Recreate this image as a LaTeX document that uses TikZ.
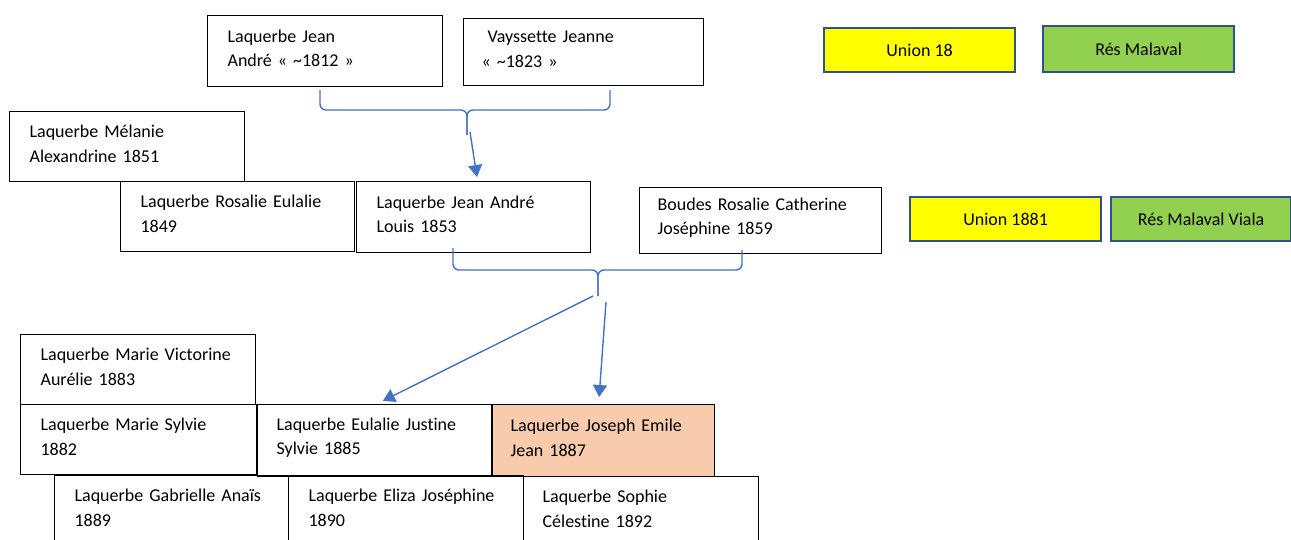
\documentclass[tikz,border=0pt]{standalone}
\usepackage{fontspec}
\setmainfont{Carlito}[Ligatures=NoCommon]
\usetikzlibrary{arrows.meta}
\definecolor{linkblue}{HTML}{4472C4}
\definecolor{tagedge}{HTML}{2F528F}
\definecolor{tagyellow}{HTML}{FFFF00}
\definecolor{taggreen}{HTML}{92D050}
\definecolor{heroorange}{HTML}{F8CBAD}
\begin{document}
\begin{tikzpicture}[x=1pt,y=-1pt,
    person/.style={draw=black,line width=1.2pt,rectangle,anchor=north west,
      align=left,inner xsep=20pt,inner ysep=2pt,minimum height=70pt,
      execute at end node={\endgraf\vspace*{6pt}},
      font=\fontsize{18}{24.5}\selectfont},
    tag/.style={draw=tagedge,line width=2.2pt,rectangle,anchor=north west,
      minimum height=44pt,font=\fontsize{18}{22}\selectfont},
    brace/.style={linkblue,line width=1.4pt,rounded corners=6pt},
    link/.style={linkblue,line width=1.4pt,-{Triangle[width=14pt,length=12pt]}}]
    \useasboundingbox (0,0) rectangle (1291,539);

    % grand-parents
    \node[person,text width=195pt,minimum height=71pt] (jeanpere) at (207,15) {Laquerbe Jean\\André « \textasciitilde1812 »};
    \node[person,text width=204pt,inner xsep=18pt,minimum height=67pt] (jeanne) at (463,18) {\hspace*{6pt}Vayssette Jeanne\\« \textasciitilde1823 »};
    \node[tag,fill=tagyellow,minimum width=191pt] (union18) at (823,27) {Union 18};
    \node[tag,fill=taggreen,minimum width=191pt,minimum height=46pt] (malaval) at (1042,25) {Rés Malaval};

    % parents and their siblings
    \node[person,text width=195pt] (melanie) at (9,111) {Laquerbe Mélanie\\Alexandrine 1851};
    \node[person,text width=194pt] (rosalie) at (120,181) {Laquerbe Rosalie Eulalie\\1849};
    \node[person,text width=194pt,minimum height=71pt] (jeanandre) at (356,181) {Laquerbe Jean André\\Louis 1853};
    \node[person,text width=206pt,inner xsep=18pt,minimum height=66pt] (boudes) at (639,187) {Boudes Rosalie Catherine\\Joséphine 1859};
    \node[tag,fill=tagyellow,minimum width=191pt] (union1881) at (909,196) {Union 1881};
    \node[tag,fill=taggreen,minimum width=180pt] (viala) at (1110,196) {Rés Malaval Viala};

    % children
    \node[person,text width=195pt] (victorine) at (20,334) {Laquerbe Marie Victorine\\Aurélie 1883};
    \node[person,text width=196pt] (sylvie) at (20,404) {Laquerbe Marie Sylvie\\1882};
    \node[person,text width=196pt,inner xsep=19pt,minimum height=72pt] (eulalie) at (257,404) {Laquerbe Eulalie Justine\\Sylvie 1885};
    \node[person,fill=heroorange,text width=186pt,inner xsep=18pt,minimum height=72pt] (joseph) at (492,404) {Laquerbe Joseph Emile\\Jean 1887};
    \node[person,text width=194pt] (gabrielle) at (54,475) {Laquerbe Gabrielle Anaïs\\1889};
    \node[person,text width=195pt] (eliza) at (288,475) {Laquerbe Eliza Joséphine\\1890};
    \node[person,text width=197pt,inner xsep=19pt] (sophie) at (523,476) {Laquerbe Sophie\\Célestine 1892};

    % first union
    \coordinate (b1l) at (320,90);
    \coordinate (b1r) at (610,90);
    \coordinate (b1m) at (467,110);
    \coordinate (b1t) at (467,135);
    \draw[brace] (b1l) |- (b1m) -- (b1t);
    \draw[brace] (b1r) |- (b1m) -- (b1t);
    \draw[link,shorten >=4pt] ([xshift=3pt,yshift=3pt]b1t) -- ([xshift=4pt]jeanandre.north);

    % second union
    \coordinate (b2l) at (453,248);
    \coordinate (b2r) at (742,250);
    \coordinate (b2m) at (598,270);
    \coordinate (b2t) at (598,296);
    \coordinate (b2s) at (606,302);
    \draw[brace] (b2l) |- (b2m) -- (b2t);
    \draw[brace] (b2r) |- (b2m) -- (b2t);
    \draw[link,shorten >=7pt] ([xshift=-5pt]b2t) -- ([xshift=2pt]eulalie.north);
    \draw[link,shorten >=7pt] (b2s) -- ([xshift=-5pt]joseph.north);
\end{tikzpicture}
\end{document}
